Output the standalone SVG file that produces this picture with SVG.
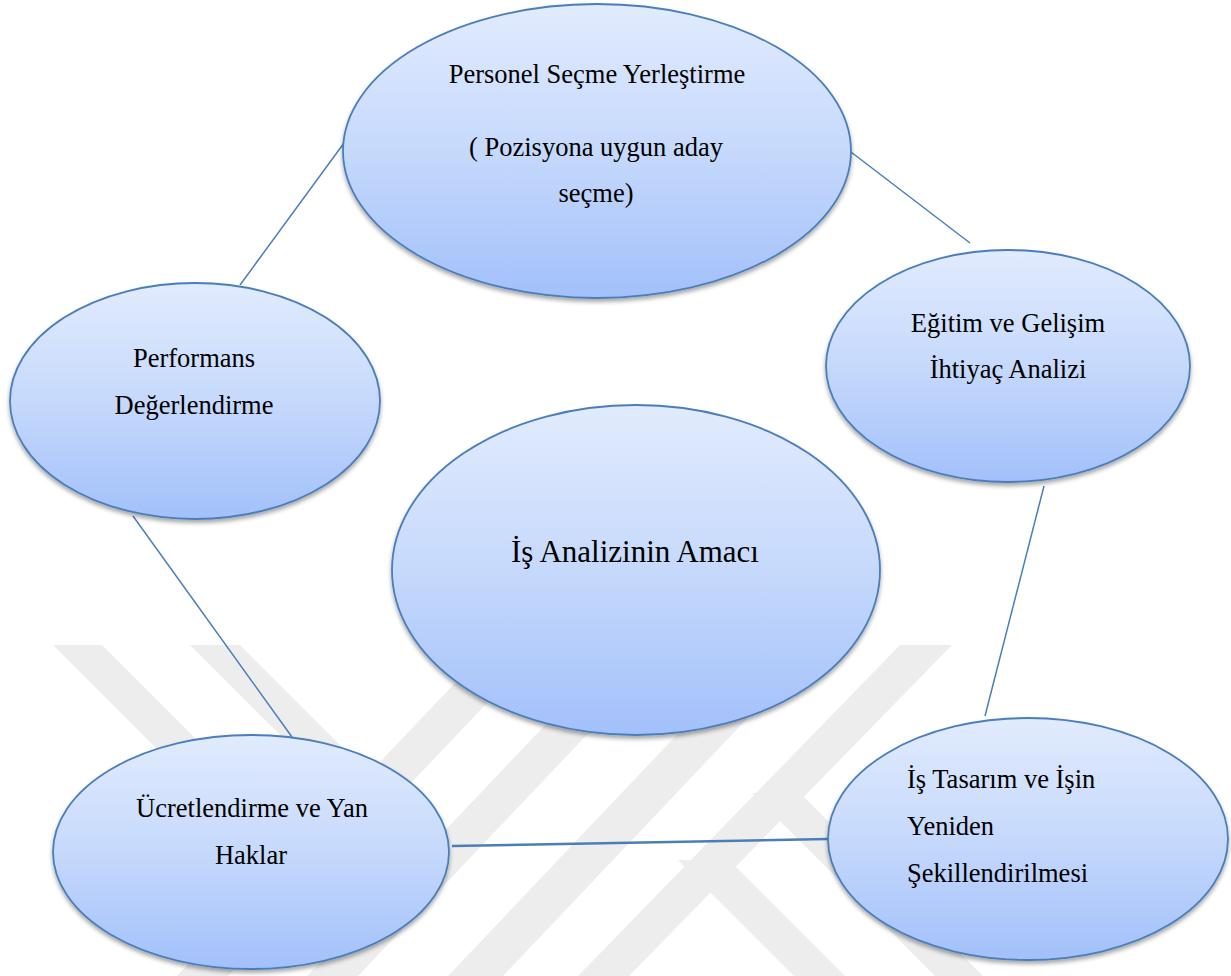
<svg xmlns="http://www.w3.org/2000/svg" width="1231" height="976" viewBox="0 0 1231 976">
  <defs>
    <linearGradient id="g" x1="0" y1="0" x2="0" y2="1">
      <stop offset="0" stop-color="#e1ebfd"/>
      <stop offset="0.5" stop-color="#c6d9fc"/>
      <stop offset="1" stop-color="#a2c0fa"/>
    </linearGradient>
    <filter id="sh" x="-10%" y="-10%" width="120%" height="125%">
      <feDropShadow dx="0" dy="3" stdDeviation="2" flood-color="#000" flood-opacity="0.35"/>
    </filter>
  </defs>
  <style>
    .node { fill: url(#g); stroke: #4a7ebb; stroke-width: 1.8; filter: url(#sh); }
    .t { font-family: "Liberation Serif", Tinos, "Times New Roman", Times, "Nimbus Roman", "Nimbus Roman No9 L", "Noto Serif", FreeSerif, "DejaVu Serif", serif; font-size: 26.5px; fill: #000; }
    .c { text-anchor: middle; }
    .conn { stroke: #4a7ebb; stroke-width: 1.5; fill: none; }
    .wm { fill: #ededed; }
  </style>
  <rect width="1231" height="976" fill="#ffffff"/>

  <g id="watermark">
    <polygon class="wm" points="53,645 102,645 307,850 258,850"/>
    <polygon class="wm" points="190,645 240,645 430,835 380,835"/>
    <polygon class="wm" points="491,645 542,645 228,976 177,976"/>
    <polygon class="wm" points="621,645 672,645 358,976 307,976"/>
    <polygon class="wm" points="762,645 817,645 503,976 448,976"/>
    <polygon class="wm" points="900,645 952,645 629,976 578,976"/>
    <polygon class="wm" points="678,860 729,860 845,976 794,976"/>
    <polygon class="wm" points="752,793 800,793 983,976 935,976"/>
  </g>

  <g id="connectors">
    <line class="conn" x1="344" y1="143" x2="240" y2="285"/>
    <line class="conn" x1="851" y1="152" x2="970" y2="243"/>
    <line class="conn" x1="1044" y1="486" x2="985" y2="716"/>
    <line class="conn" x1="133" y1="516" x2="292" y2="737"/>
    <line class="conn" x1="452" y1="846" x2="828" y2="839" style="stroke-width:2.5"/>
  </g>

  <g id="node-personel">
    <ellipse class="node" cx="597" cy="151" rx="254" ry="147"/>
    <text class="t c" x="597" y="83">Personel Seçme Yerleştirme</text>
    <text class="t c" x="596" y="156">( Pozisyona uygun aday</text>
    <text class="t c" x="596" y="202">seçme)</text>
  </g>

  <g id="node-performans">
    <ellipse class="node" cx="195" cy="401" rx="185" ry="118"/>
    <text class="t c" x="194" y="367">Performans</text>
    <text class="t c" x="194" y="414">Değerlendirme</text>
  </g>

  <g id="node-egitim">
    <ellipse class="node" cx="1008" cy="366" rx="182" ry="116"/>
    <text class="t c" x="1008" y="332">Eğitim ve Gelişim</text>
    <text class="t c" x="1008" y="378">İhtiyaç Analizi</text>
  </g>

  <g id="node-center">
    <ellipse class="node" cx="636" cy="570" rx="244" ry="165"/>
    <text class="t c" x="635" y="562" style="font-size:31px">İş Analizinin Amacı</text>
  </g>

  <g id="node-ucret">
    <ellipse class="node" cx="251" cy="852" rx="198" ry="117"/>
    <text class="t c" x="252" y="817">Ücretlendirme ve Yan</text>
    <text class="t c" x="251" y="864">Haklar</text>
  </g>

  <g id="node-tasarim">
    <ellipse class="node" cx="1028" cy="839" rx="200" ry="121"/>
    <text class="t" x="907" y="788">İş Tasarım ve İşin</text>
    <text class="t" x="907" y="835">Yeniden</text>
    <text class="t" x="907" y="882">Şekillendirilmesi</text>
  </g>
</svg>
